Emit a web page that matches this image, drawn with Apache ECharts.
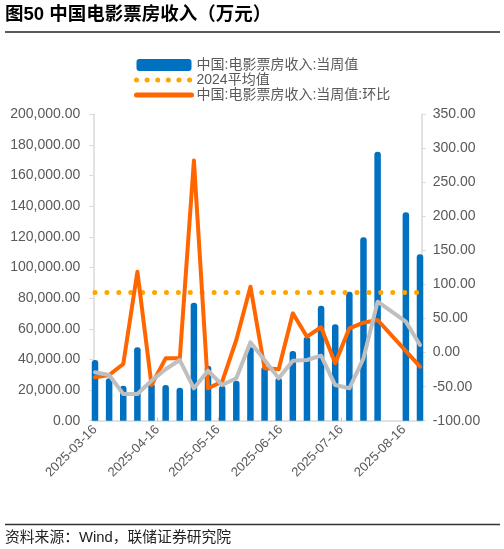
<!DOCTYPE html>
<html>
<head>
<meta charset="utf-8">
<script src="https://cdn.jsdelivr.net/npm/echarts@6/dist/echarts.min.js"></script>
<style>
  html, body { margin: 0; padding: 0; background: #fff; }
  #chart { width: 504px; height: 549px; }
</style>
</head>
<body>
<div id="chart"></div>
<script>
// weekly dates (08-10 has no data in the source)
const DATES = [
  "2025-03-16", "2025-03-23", "2025-03-30", "2025-04-06", "2025-04-13", "2025-04-20",
  "2025-04-27", "2025-05-04", "2025-05-11", "2025-05-18", "2025-05-25", "2025-06-01",
  "2025-06-08", "2025-06-15", "2025-06-22", "2025-06-29", "2025-07-06", "2025-07-13",
  "2025-07-20", "2025-07-27", "2025-08-03", "2025-08-10", "2025-08-17", "2025-08-24"
];
// 中国:电影票房收入:当周值 (万元)
const BOX_WEEKLY = [
  39600, 27700, 22800, 47900, 24400, 23300, 21500, 77000, 35900, 22800, 26100, 47900,
  35200, 28000, 45500, 54800, 75100, 62900, 84200, 119700, 175600, null, 136000, 108600
];
// 环比 (%)
const BOX_WOW = [
  -36.3, -32.9, -16.7, 118.8, -47.6, -8.4, -8.4, 282, -52.4, -42.7, 18.5, 96.8,
  -23, -24.5, 57.7, 23.4, 37.2, -15.7, 35.7, 43.9, 47.9, null, null, -20.7
];
// unlabelled grey series (right axis)
const GREY_LINE = [
  -28.9, -32.9, -60.8, -60.8, -41.3, -24.5, -10.9, -52.4, -26.6, -47.6, -37.7, 15.1,
  -10.9, -37.7, -11.9, -10.9, -4.5, -47.6, -52.4, -8.4, 74.8, null, 45.4, 11.2
];
const AVG_2024 = 83700;
const TICK_LABELS = ["2025-03-16", "2025-04-16", "2025-05-16", "2025-06-16", "2025-07-16", "2025-08-16"];

const NAME_BAR = "中国:电影票房收入:当周值";
const NAME_AVG = "2024平均值";
const NAME_WOW = "中国:电影票房收入:当周值:环比";

const FONT = "'Liberation Sans', Arial, 'Noto Sans CJK SC', sans-serif";
const DAY = 86400000;
const t = (s) => Date.parse(s + "T00:00:00Z");
const pair = (arr) => DATES.map((d, i) => [t(d), arr[i]]);
const pad = (n) => (n < 10 ? "0" : "") + n;
const fmtDate = (v) => { const d = new Date(v); return d.getUTCFullYear() + "-" + pad(d.getUTCMonth() + 1) + "-" + pad(d.getUTCDate()); };

const chart = echarts.init(document.getElementById("chart"), null, { renderer: "canvas" });
chart.setOption({
  animation: false,
  textStyle: { fontFamily: FONT },
  title: [
    { text: "图50 中国电影票房收入（万元）", left: 0, top: 1,
      textStyle: { fontSize: 18.5, fontWeight: "bold", color: "#000", fontFamily: FONT } },
    { text: "资料来源：Wind，联储证券研究院", left: 0, top: 526,
      textStyle: { fontSize: 14.8, fontWeight: "normal", color: "#222", fontFamily: FONT } }
  ],
  graphic: [
    { type: "line", shape: { x1: 5, y1: 32, x2: 500, y2: 32 }, style: { stroke: "#222", lineWidth: 1.3 } },
    { type: "line", shape: { x1: 5, y1: 524.5, x2: 500, y2: 524.5 }, style: { stroke: "#333", lineWidth: 1.3 } }
  ],
  legend: {
    orient: "vertical", left: 129, top: 53,
    itemWidth: 55, itemHeight: 12, itemGap: 1, itemTextGap: 4,
    textStyle: { fontSize: 14, color: "#595959", lineHeight: 14 },
    data: [
      { name: NAME_BAR, icon: "roundRect" },
      { name: NAME_AVG, itemStyle: { opacity: 0 },
        lineStyle: { color: "#FFA500", width: 5, type: [0.01, 10.6], cap: "round" } },
      { name: NAME_WOW, itemStyle: { opacity: 0 },
        lineStyle: { color: "#FF6600", width: 5, cap: "round" } }
    ]
  },
  grid: { left: 93.3, right: 82.3, top: 114.3, bottom: 128.3, containLabel: false },
  xAxis: {
    type: "value",
    min: t("2025-03-16") - 0.84 * DAY,
    max: t("2025-08-24") + 0.84 * DAY,
    axisLine: { lineStyle: { color: "#D9D9D9", width: 1.5 } },
    axisTick: { show: true, inside: true, length: 3, lineStyle: { color: "#BFBFBF" },
      customValues: TICK_LABELS.map(t) },
    axisLabel: {
      rotate: 45, margin: 7, fontSize: 13, color: "#595959",
      customValues: TICK_LABELS.map(t),
      formatter: fmtDate
    },
    splitLine: { show: false }
  },
  yAxis: [
    {
      type: "value", min: 0, max: 200000, interval: 20000, position: "left",
      axisLine: { show: true, lineStyle: { color: "#D9D9D9", width: 1.5 } },
      axisTick: { show: true, length: 4, lineStyle: { color: "#D9D9D9" } },
      axisLabel: { fontSize: 14, color: "#595959", margin: 13,
        formatter: (v) => v.toLocaleString("en-US", { minimumFractionDigits: 2, maximumFractionDigits: 2 }) },
      splitLine: { show: false }
    },
    {
      type: "value", min: -100, max: 350, interval: 50, position: "right",
      axisLine: { show: true, lineStyle: { color: "#D9D9D9", width: 1.5 } },
      axisTick: { show: true, length: 4, lineStyle: { color: "#D9D9D9" } },
      axisLabel: { fontSize: 14, color: "#595959", margin: 11, formatter: (v) => v.toFixed(2) },
      splitLine: { show: false }
    }
  ],
  series: [
    {
      name: NAME_BAR, type: "bar", yAxisIndex: 0, data: pair(BOX_WEEKLY),
      barWidth: 6.5, itemStyle: { color: "#0070C0", borderRadius: [3, 3, 0, 0] }, z: 1
    },
    {
      name: NAME_AVG, type: "line", yAxisIndex: 0,
      data: [[t(DATES[0]), AVG_2024], [t(DATES[DATES.length - 1]), AVG_2024]],
      symbol: "none", z: 2,
      lineStyle: { color: "#FFA500", width: 5, type: [0.01, 11.9], cap: "round" },
      itemStyle: { color: "#FFA500" }
    },
    {
      name: NAME_WOW, type: "line", yAxisIndex: 1, data: pair(BOX_WOW), connectNulls: true,
      symbol: "none", z: 3,
      lineStyle: { color: "#FF6600", width: 4, join: "round", cap: "round" },
      itemStyle: { color: "#FF6600" }
    },
    {
      name: "grey", type: "line", yAxisIndex: 1, data: pair(GREY_LINE), connectNulls: true,
      symbol: "none", z: 4,
      lineStyle: { color: "#BFBFBF", width: 4, join: "round", cap: "round" },
      itemStyle: { color: "#BFBFBF" }
    }
  ]
});
</script>
</body>
</html>
